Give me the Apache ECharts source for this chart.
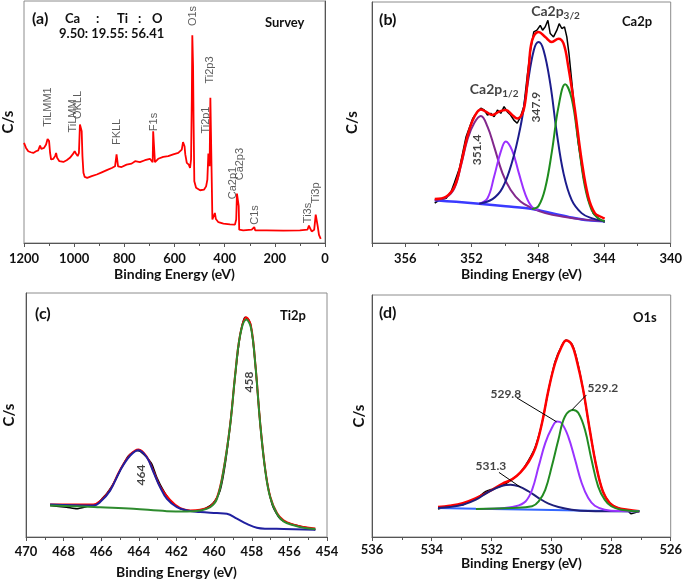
<!DOCTYPE html>
<html>
<head>
<meta charset="utf-8">
<title>XPS spectra</title>
<script src="https://cdn.jsdelivr.net/npm/echarts@6.0.0/dist/echarts.min.js"></script>
<style>
  html, body { margin: 0; padding: 0; background: #fff; }
  #chart { width: 685px; height: 580px; }
</style>
</head>
<body>
<div id="chart"></div>
<script>
// all values: [binding energy (eV), counts in arbitrary units 0-100]

// (a) survey
const surveyData = [
  [1200, 41.4], [1192, 39.3], [1183, 37.9], [1173, 37.5], [1163, 37.2], [1152, 37.9], [1143, 38.3],
  [1136, 40.3], [1131, 38.9], [1120, 39.3], [1112, 40.7], [1106, 43.0], [1100, 42.1], [1096, 37.2],
  [1092, 34.5], [1083, 34.8], [1076, 35.9], [1072, 37.2], [1068, 35.2], [1059, 33.8], [1043, 33.5],
  [1030, 34.2], [1017, 35.2], [1006, 36.6], [998, 37.9], [993, 37.0], [986, 35.9], [981, 37.2],
  [977, 49.0], [973, 49.4], [970, 46.2], [967, 35.9], [963, 29.0], [958, 27.3], [948, 26.9],
  [930, 27.6], [910, 28.3], [890, 29.2], [870, 30.1], [850, 31.0], [837, 31.7], [831, 36.6],
  [828, 35.9], [825, 31.7], [811, 31.4], [791, 32.4], [771, 32.8], [757, 33.8], [738, 33.4],
  [718, 34.2], [698, 34.8], [687, 33.4], [685, 46.2], [681, 45.7], [678, 33.4], [665, 34.8],
  [645, 35.6], [625, 35.9], [605, 36.6], [585, 37.2], [571, 38.6], [566, 41.7], [560, 40.0],
  [557, 36.6], [551, 33.1], [543, 32.4], [538, 31.0], [534, 34.5], [531, 59.3], [529, 85.8],
  [526, 73.1], [524, 51.0], [521, 25.5], [514, 22.8], [498, 21.8], [482, 22.1], [474, 23.4],
  [469, 26.2], [465, 37.0], [462, 35.9], [460, 31.7], [457, 60.0], [455, 59.3], [452, 29.0],
  [449, 9.7], [442, 9.7], [439, 12.4], [435, 9.9], [425, 8.6], [405, 8.0], [379, 7.7],
  [359, 7.6], [354, 9.7], [351, 20.4], [347, 20.0], [344, 15.2], [342, 5.5], [326, 5.2],
  [292, 5.5], [286, 5.8], [282, 6.6], [278, 5.2], [233, 5.2], [166, 5.1], [100, 5.2],
  [70, 5.5], [64, 7.2], [60, 6.2], [53, 4.8], [43, 5.5], [37, 11.7], [33, 11.0], [29, 6.9],
  [24, 3.4], [17, 1.7]
];
const surveyTags = [
  ['TiLMM1', 1104, 56.2], ['TiLMM', 1005, 52.5], ['OKLL', 985, 57.0], ['FKLL', 829, 45.9],
  ['F1s', 682, 50.0], ['O1s', 526, 93.8], ['Ti2p3', 458, 71.5], ['Ti2p1', 474, 50.8],
  ['Ca2p1', 367, 24.8], ['Ca2p3', 339, 32.6], ['C1s', 279, 11.6], ['Ti3s', 68, 12.4], ['Ti3p', 36, 20.7]
];

// (b) Ca2p
const caRaw = [
  [354.22, 16.6], [353.92, 17.9], [353.52, 18.6], [353.23, 21.4], [353.03, 25.1], [352.73, 31.0],
  [352.33, 44.1], [351.93, 51.7], [351.64, 54.5], [351.44, 55.9], [351.24, 55.2], [351.04, 53.1],
  [350.84, 53.8], [350.64, 52.4], [350.44, 55.2], [350.24, 53.8], [350.04, 56.6], [349.85, 54.5],
  [349.65, 53.1], [349.45, 51.0], [349.25, 49.7], [349.05, 52.4], [348.85, 56.6], [348.65, 69.0],
  [348.45, 80.0], [348.25, 87.6], [348.06, 88.3], [347.86, 90.3], [347.72, 88.3], [347.56, 89.7],
  [347.40, 92.4], [347.26, 86.9], [347.06, 85.5], [346.86, 88.3], [346.72, 91.0], [346.56, 89.0],
  [346.40, 89.7], [346.26, 85.5], [346.13, 78.6], [345.97, 67.6], [345.77, 53.8], [345.57, 41.4],
  [345.27, 27.6], [344.97, 17.9], [344.67, 12.4], [344.38, 10.3], [343.98, 8.6]
];
const caEnvelope = [
  [354.22, 18.3], [353.52, 19.3], [353.03, 23.4], [352.63, 33.1], [352.23, 44.8], [351.83, 52.4],
  [351.44, 55.4], [351.14, 54.5], [350.74, 53.1], [350.34, 54.5], [349.94, 55.2], [349.55, 53.1],
  [349.25, 51.7], [348.95, 53.5], [348.75, 59.3], [348.55, 73.1], [348.35, 84.1], [347.96, 87.6],
  [347.56, 85.5], [347.16, 83.4], [346.76, 84.8], [346.46, 82.8], [346.17, 73.1], [345.77, 55.2],
  [345.37, 34.5], [344.97, 19.3], [344.57, 12.4], [344.18, 10.8], [343.98, 10.1]
];
const caBase = [
  [354.22, 17.7], [352.93, 17.1], [351.54, 16.3], [349.94, 15.2], [348.35, 14.1], [347.16, 12.4],
  [345.97, 10.6], [344.97, 9.4], [343.98, 9.0]
];
const ca3514 = [
  [354.22, 17.7], [353.52, 19.0], [353.03, 22.8], [352.63, 32.4], [352.23, 43.4], [351.83, 49.9],
  [351.44, 52.7], [351.04, 48.3], [350.64, 40.0], [350.14, 29.0], [349.65, 22.1], [349.05, 17.2],
  [348.35, 14.5], [347.56, 12.4], [346.36, 10.8], [345.17, 9.7], [343.98, 9.0]
];
const ca3499 = [
  [351.54, 16.3], [351.04, 18.6], [350.64, 27.6], [350.24, 37.9], [349.94, 42.1], [349.55, 38.3],
  [349.15, 29.0], [348.75, 20.0], [348.35, 14.9], [347.96, 13.8]
];
const ca3479 = [
  [351.54, 16.3], [350.74, 18.2], [350.14, 22.8], [349.55, 33.8], [349.05, 48.3], [348.65, 64.8],
  [348.25, 80.0], [347.96, 83.4], [347.66, 80.0], [347.26, 66.2], [346.86, 45.5], [346.46, 29.0],
  [345.97, 17.9], [345.37, 12.4], [344.77, 10.3], [343.98, 9.0]
];
const ca3463 = [
  [348.35, 14.1], [347.96, 15.4], [347.56, 22.8], [347.16, 37.9], [346.76, 56.6], [346.36, 65.9],
  [345.97, 60.0], [345.57, 42.1], [345.17, 23.4], [344.77, 13.8], [344.38, 10.3], [343.98, 9.0]
];
const caTags = [['351.4', 351.66, 38.6], ['347.9', 348.13, 56.4]];

// (c) Ti2p
const tiRaw = [
  [468.72, 12.9], [467.84, 12.2], [467.30, 11.6], [466.77, 12.5], [466.24, 13.6], [465.97, 15.6],
  [465.71, 17.7], [465.26, 23.1], [464.91, 28.6], [464.55, 33.3], [464.11, 35.4], [463.93, 35.1],
  [463.76, 34.0], [463.58, 32.7], [463.31, 29.9], [463.05, 24.5], [462.69, 19.0], [462.34, 15.0],
  [461.80, 11.6], [461.27, 10.6], [460.74, 10.9], [460.21, 12.9], [459.94, 15.0], [459.68, 19.0],
  [459.41, 29.9], [459.14, 46.3], [458.88, 66.3], [458.61, 83.0], [458.35, 90.1], [458.17, 89.1],
  [458.04, 86.4], [457.81, 70.7], [457.55, 46.3], [457.28, 27.2], [456.93, 13.6], [456.57, 8.2],
  [456.31, 6.5], [455.77, 5.0], [455.24, 4.1], [454.62, 3.0]
];
const tiEnvelope = [
  [468.72, 13.3], [466.42, 13.3], [466.06, 14.7], [465.53, 19.3], [465.00, 27.5], [464.47, 33.7],
  [464.02, 35.9], [463.58, 32.9], [463.22, 26.9], [462.87, 20.7], [462.34, 15.2], [461.80, 11.8],
  [461.27, 10.9], [460.74, 11.2], [460.21, 12.5], [459.85, 16.1], [459.50, 27.5], [459.14, 46.5],
  [458.88, 66.6], [458.61, 83.2], [458.29, 90.1], [458.04, 86.4], [457.81, 71.0], [457.55, 46.5],
  [457.28, 27.5], [457.02, 16.6], [456.66, 9.8], [456.31, 6.8], [455.77, 5.0], [455.24, 4.1], [454.62, 3.5]
];
const ti464 = [
  [468.72, 13.3], [466.42, 12.9], [466.06, 14.3], [465.53, 19.0], [465.00, 27.2], [464.47, 33.3],
  [464.02, 35.6], [463.58, 32.7], [463.22, 26.5], [462.87, 20.4], [462.51, 15.6], [461.98, 12.2],
  [461.45, 10.9], [460.74, 10.2], [459.85, 9.8], [459.32, 9.5], [458.79, 7.5], [458.26, 5.4],
  [457.73, 3.8], [457.19, 3.4], [456.31, 3.3], [454.62, 3.0]
];
const ti458 = [
  [468.72, 12.9], [466.95, 12.5], [466.06, 12.2], [464.29, 11.6], [462.51, 10.6], [461.45, 10.5],
  [460.74, 10.9], [460.21, 12.2], [459.85, 15.6], [459.50, 27.2], [459.14, 46.3], [458.88, 66.3],
  [458.61, 83.0], [458.29, 89.1], [458.04, 85.7], [457.81, 70.7], [457.55, 46.3], [457.28, 27.2],
  [457.02, 16.3], [456.66, 9.5], [456.31, 6.4], [455.77, 4.8], [455.24, 3.8], [454.62, 3.3]
];
const tiTags = [['464', 463.89, 25.4], ['458', 458.15, 63.5]];

// (d) O1s
const oRaw = [
  [533.79, 11.6], [533.40, 12.9], [532.96, 13.3], [532.63, 15.4], [532.52, 15.7], [532.19, 18.8],
  [531.97, 19.8], [531.64, 21.2], [531.30, 23.9], [531.03, 26.7], [530.75, 31.9], [530.53, 37.4],
  [530.31, 47.0], [530.09, 60.8], [529.87, 72.5], [529.65, 79.0], [529.50, 81.4], [529.31, 79.8],
  [529.15, 73.9], [528.93, 60.8], [528.71, 44.3], [528.49, 29.2], [528.27, 18.8], [528.04, 14.0],
  [527.77, 12.0], [527.44, 11.0], [527.33, 9.6], [527.05, 10.6]
];
const oEnvelope = [
  [533.79, 12.4], [533.40, 12.9], [532.96, 14.0], [532.52, 16.1], [532.08, 18.8], [531.64, 22.0],
  [531.30, 23.9], [531.03, 26.7], [530.75, 31.2], [530.53, 36.7], [530.31, 47.0], [530.09, 60.8],
  [529.87, 71.8], [529.65, 78.7], [529.50, 81.2], [529.31, 79.4], [529.15, 73.2], [528.93, 60.8],
  [528.71, 44.3], [528.49, 29.2], [528.27, 18.8], [528.04, 14.0], [527.77, 12.0], [527.44, 11.3], [527.05, 10.6]
];
const oBase = [[533.79, 12.0], [532.52, 11.7], [530.42, 11.3], [528.21, 10.7], [527.05, 10.6]];
const o5313 = [
  [533.79, 12.0], [533.40, 12.4], [532.96, 13.3], [532.52, 15.4], [532.08, 18.8], [531.64, 21.2],
  [531.36, 21.6], [531.08, 20.9], [530.75, 18.8], [530.42, 16.1], [530.09, 13.8], [529.76, 12.4],
  [529.31, 11.3], [528.76, 10.7], [528.21, 10.6], [527.05, 10.6]
];
const o5298 = [
  [532.52, 11.6], [531.75, 11.8], [531.19, 12.7], [530.86, 14.7], [530.64, 19.5], [530.42, 29.2],
  [530.20, 38.8], [529.98, 45.0], [529.81, 47.7], [529.65, 47.0], [529.43, 41.5], [529.20, 31.9],
  [528.98, 22.3], [528.76, 16.1], [528.54, 12.9], [528.21, 11.3], [527.66, 10.7], [527.05, 10.6]
];
const o5292 = [
  [532.52, 11.6], [531.30, 12.0], [530.64, 12.7], [530.42, 14.7], [530.20, 19.5], [529.98, 29.2],
  [529.76, 40.2], [529.54, 49.8], [529.26, 52.5], [529.09, 51.2], [528.87, 44.3], [528.65, 31.9],
  [528.43, 20.9], [528.21, 15.4], [527.99, 12.7], [527.66, 11.3], [527.05, 10.6]
];
// peak label: text, label position, leader start, leader end
const oTags = [
  ['529.8', [531.52, 58.9], [531.15, 57.5], [529.82, 47.6]],
  ['529.2', [528.27, 61.5], [528.82, 58.7], [529.31, 52.5]],
  ['531.3', [532.02, 29.4], [531.75, 26.7], [531.03, 20.6]]
];

const FONT = 'Lato, "Open Sans", sans-serif';
const AXIS_COLOR = '#555';

function xAxisFor (grid, min, max, interval, margin, nameGap) {
  return {
    gridIndex: grid, type: 'value', inverse: true, min: min, max: max, interval: interval,
    axisLine: {lineStyle: {color: AXIS_COLOR, width: 1}},
    axisTick: {length: 4, lineStyle: {color: AXIS_COLOR}},
    minorTick: {show: true, splitNumber: 2, length: 3, lineStyle: {color: AXIS_COLOR}},
    splitLine: {show: false},
    axisLabel: {
      showMaxLabel: max % interval === 0, margin: margin, formatter: v => String(v),
      color: '#111', fontFamily: FONT, fontWeight: 'bold', fontSize: 13
    },
    name: 'Binding Energy (eV)', nameLocation: 'middle', nameGap: nameGap,
    nameTextStyle: {color: '#111', fontFamily: FONT, fontWeight: 'bold', fontSize: 14}
  }
}

function yAxisFor (grid, nameGap) {
  return {
    gridIndex: grid, type: 'value', min: 0, max: 100,
    axisLine: {show: true, lineStyle: {color: AXIS_COLOR, width: 1}},
    axisTick: {show: false}, axisLabel: {show: false}, splitLine: {show: false},
    name: 'C/s', nameLocation: 'middle', nameGap: nameGap,
    nameTextStyle: {color: '#111', fontFamily: FONT, fontWeight: 'bold', fontSize: 15}
  }
}

function curve (grid, data, color, width, smooth) {
  return {
    type: 'line', xAxisIndex: grid, yAxisIndex: grid, data: data, symbol: 'none',
    smooth: smooth, lineStyle: {color: color, width: width}, silent: true, animation: false
  }
}

function tagSeries (grid, list, label) {
  return {
    type: 'scatter', xAxisIndex: grid, yAxisIndex: grid, symbolSize: 1, silent: true, animation: false,
    itemStyle: {color: 'rgba(0,0,0,0)'},
    data: list.map(t => ({name: t[0], value: [t[1], t[2]]})),
    label: Object.assign({show: true, position: 'inside', formatter: p => p.name}, label)
  }
}

function text (x, y, str, size, weight) {
  return {
    type: 'text', x: x, y: y, silent: true,
    style: {text: str, fill: '#111', font: (weight || 'bold') + ' ' + size + 'px ' + FONT, textVerticalAlign: 'top'}
  }
}

const chart = echarts.init(document.getElementById('chart'), null, {renderer: 'canvas'})

const frame = {show: true, borderColor: '#8c8c8c', borderWidth: 1, containLabel: false}

chart.setOption({
  backgroundColor: '#fff',
  animation: false,
  grid: [
    Object.assign({left: 24, top: 1, width: 301, height: 242}, frame),
    Object.assign({left: 372, top: 2, width: 301, height: 241}, frame),
    Object.assign({left: 26, top: 293, width: 301, height: 244}, frame),
    Object.assign({left: 372, top: 295, width: 301, height: 242}, frame)
  ],
  xAxis: [
    xAxisFor(0, 0, 1200, 200, 9, 24),
    xAxisFor(1, 340, 358, 4, 9, 24),
    xAxisFor(2, 454, 470, 2, 8, 28),
    xAxisFor(3, 526, 536, 2, 6, 18)
  ],
  yAxis: [yAxisFor(0, 8), yAxisFor(1, 12), yAxisFor(2, 9), yAxisFor(3, 5)],
  series: [
    curve(0, surveyData, '#ff0000', 1.8, false),
    tagSeries(0, surveyTags, {rotate: 90, color: '#333', fontFamily: '"Liberation Sans", Arial, sans-serif', fontSize: 11}),

    curve(1, caRaw, '#000', 1.5, false),
    curve(1, caBase, '#3a3aff', 2.5, 0.3),
    curve(1, ca3514, '#82288c', 2, 0.4),
    curve(1, ca3499, '#9b30ff', 2, 0.4),
    curve(1, ca3479, '#1c1c8c', 2, 0.4),
    curve(1, ca3463, '#1e8c1e', 2, 0.4),
    curve(1, caEnvelope, '#ff0000', 2.5, 0.4),
    tagSeries(1, caTags, {rotate: 90, color: '#111', fontFamily: FONT, fontWeight: 'bold', fontSize: 12}),
    {
      type: 'scatter', xAxisIndex: 1, yAxisIndex: 1, symbolSize: 1, silent: true, animation: false,
      itemStyle: {color: 'rgba(0,0,0,0)'},
      data: [
        {name: '1/2', value: [350.64, 63.5]},
        {name: '3/2', value: [346.94, 95.9]}
      ],
      label: {
        show: true, position: 'inside', color: '#111',
        formatter: p => '{a|Ca2p}{s|' + p.name + '}',
        rich: {
          a: {fontFamily: FONT, fontWeight: 'bold', fontSize: 14, color: '#111'},
          s: {fontFamily: FONT, fontWeight: 'bold', fontSize: 10, color: '#111', padding: [7, 0, 0, 0]}
        }
      }
    },

    curve(2, tiRaw, '#000', 1.5, 0.2),
    curve(2, tiEnvelope, '#ff0000', 2, 0.4),
    curve(2, ti464, '#2020a0', 2, 0.4),
    curve(2, ti458, '#2e8b2e', 2, 0.4),
    tagSeries(2, tiTags, {rotate: 90, color: '#111', fontFamily: FONT, fontWeight: 'bold', fontSize: 12}),

    curve(3, oRaw, '#000', 1.5, 0.2),
    curve(3, oEnvelope, '#ff0000', 2.5, 0.4),
    curve(3, oBase, '#3366ff', 2, false),
    curve(3, o5313, '#1f1f7a', 2, 0.4),
    curve(3, o5298, '#9933ff', 2, 0.4),
    curve(3, o5292, '#228b22', 2, 0.4),
    {
      type: 'scatter', xAxisIndex: 3, yAxisIndex: 3, symbolSize: 1, silent: true, animation: false,
      itemStyle: {color: 'rgba(0,0,0,0)'},
      data: oTags.map(t => ({name: t[0], value: t[1]})),
      label: {show: true, position: 'inside', formatter: p => p.name, color: '#111', fontFamily: FONT, fontWeight: 'bold', fontSize: 12},
      markLine: {
        silent: true, symbol: 'none', animation: false,
        label: {show: false},
        lineStyle: {color: '#000', width: 1, type: 'solid'},
        data: oTags.map(t => [{coord: t[2]}, {coord: t[3]}])
      }
    }
  ],
  graphic: [
    text(32, 11, '(a)', 16),
    text(65, 12, 'Ca', 13), text(96, 12, ':', 13), text(117, 12, 'Ti', 13),
    text(138, 12, ':', 13), text(152, 12, 'O', 13),
    text(59, 27, '9.50: 19.55: 56.41', 13),
    text(265, 16, 'Survey', 13),
    text(379, 12, '(b)', 16),
    text(622, 15, 'Ca2p', 13),
    text(35, 306, '(c)', 16),
    text(280, 309, 'Ti2p', 13),
    text(379, 305, '(d)', 16),
    text(633, 311, 'O1s', 13)
  ]
})
</script>
</body>
</html>
